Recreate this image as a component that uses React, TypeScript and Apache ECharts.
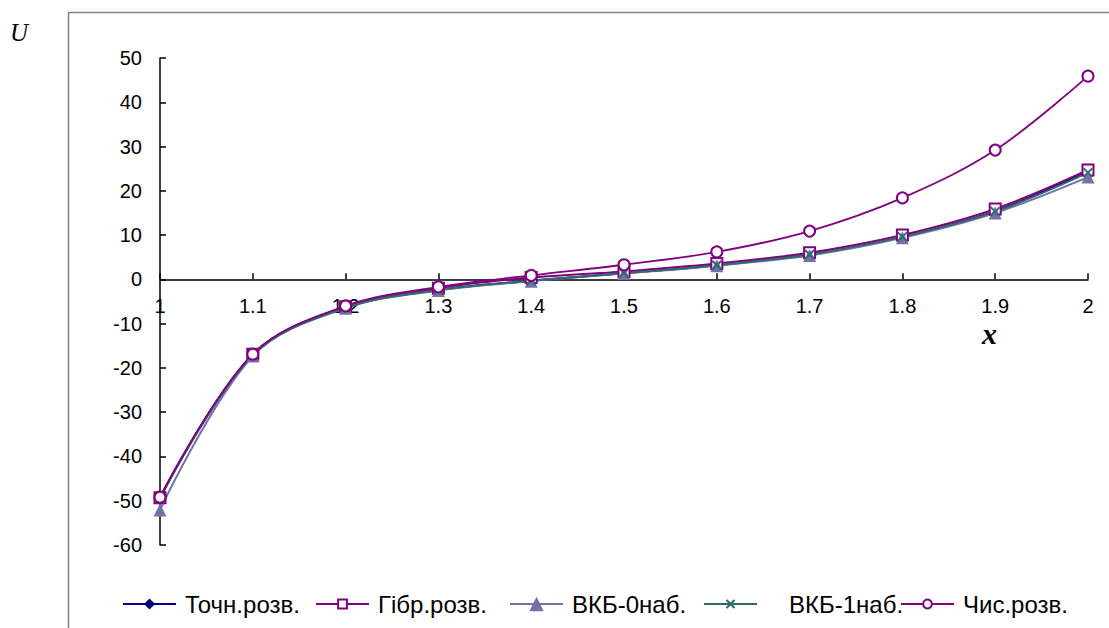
import React, { useEffect, useRef } from "react";
import * as echarts from "echarts";

const xValues = [1, 1.1, 1.2, 1.3, 1.4, 1.5, 1.6, 1.7, 1.8, 1.9, 2];
const exactSol = [-49.3, -17.1, -6.4, -2.4, -0.3, 1.4, 3.2, 5.6, 9.6, 15.4, 24.5];
const hybridSol = [-49.3, -16.9, -6.2, -2.0, 0.4, 1.8, 3.6, 6.0, 10.0, 15.9, 24.7];
const wkb0Sol = [-52.1, -17.3, -6.5, -2.5, -0.4, 1.3, 3.1, 5.4, 9.4, 15.0, 23.1];
const wkb1Sol = [-49.5, -17.1, -6.4, -2.4, -0.3, 1.4, 3.2, 5.6, 9.6, 15.3, 24.1];
const numSol = [-49.2, -16.9, -6.0, -1.7, 0.9, 3.3, 6.2, 10.9, 18.4, 29.2, 45.9];

const seriesNames = ["Точн.розв.", "Гібр.розв.", "ВКБ-0наб.", "ВКБ-1наб.", "Чис.розв."];
const legendLefts = [122, 315, 509, 703, 900];
const legendTextGaps = [4, 4, 4, 27, 4];
const legendIconHeights = [14, 11, 18, 10, 11];

const pair = (ys: number[]) => xValues.map((x, i) => [x, ys[i]]);

export default function App() {
  const ref = useRef<HTMLDivElement>(null);
  useEffect(() => {
    document.body.style.margin = "0";
    if (!ref.current) return;
    const chart = echarts.init(ref.current, undefined, { renderer: "svg" });
    const font = "'Liberation Sans', Arial, sans-serif";
    const common = { type: "line", smooth: 0.35, animation: false, z: 3 };
    chart.setOption({
      animation: false,
      backgroundColor: "#fff",
      grid: { left: 160, right: 21, top: 58, bottom: 83, containLabel: false },
      xAxis: {
        type: "value",
        min: 1,
        max: 2,
        interval: 0.1,
        axisLine: { onZero: true, lineStyle: { color: "#000", width: 1.5 } },
        axisTick: { inside: true, length: 6, lineStyle: { color: "#000", width: 1.5 } },
        splitLine: { show: false },
        axisLabel: {
          color: "#000",
          fontSize: 20,
          fontFamily: font,
          margin: -249,
          formatter: (v: number) => String(Number(v.toFixed(1))),
        },
      },
      yAxis: {
        type: "value",
        min: -60,
        max: 50,
        interval: 10,
        axisLine: { show: true, onZero: false, lineStyle: { color: "#000", width: 1.5 } },
        axisTick: { show: true, inside: true, length: 6, lineStyle: { color: "#000", width: 1.5 } },
        splitLine: { show: false },
        axisLabel: { color: "#000", fontSize: 20, fontFamily: font, margin: 18 },
      },
      legend: seriesNames.map((n, i) => ({
        data: [n],
        left: legendLefts[i],
        top: 592,
        itemWidth: 53,
        itemHeight: legendIconHeights[i],
        padding: 0,
        textStyle: {
          fontSize: 24,
          fontFamily: font,
          color: "#000",
          padding: [0, 0, 0, legendTextGaps[i]],
        },
      })),
      graphic: [
        {
          type: "rect",
          shape: { x: 68.5, y: 12.5, width: 1100, height: 700 },
          style: { fill: "none", stroke: "#808080", lineWidth: 1.5 },
          silent: true,
          z: 0,
        },
        {
          type: "text",
          x: 10,
          y: 20,
          style: {
            text: "U",
            font: "italic 25px 'Liberation Serif', 'Times New Roman', serif",
            fill: "#000",
          },
        },
        {
          type: "text",
          x: 982,
          y: 318,
          style: {
            text: "x",
            font: "italic bold 30px 'Liberation Serif', 'Times New Roman', serif",
            fill: "#000",
          },
        },
      ],
      series: [
        {
          ...common,
          name: seriesNames[0],
          data: pair(exactSol),
          symbol: "diamond",
          symbolSize: 10,
          lineStyle: { color: "#000080", width: 2 },
          itemStyle: { color: "#000080" },
        },
        {
          ...common,
          name: seriesNames[1],
          data: pair(hybridSol),
          symbol: "emptyRect",
          symbolSize: 11,
          lineStyle: { color: "#800080", width: 2 },
          itemStyle: { color: "#800080", borderWidth: 2 },
        },
        {
          ...common,
          name: seriesNames[2],
          data: pair(wkb0Sol),
          symbol: "triangle",
          symbolSize: 13,
          lineStyle: { color: "#7272a8", width: 2 },
          itemStyle: { color: "#7272a8" },
        },
        {
          ...common,
          name: seriesNames[3],
          data: pair(wkb1Sol),
          symbol: "path://M0 0L10 10M10 0L0 10",
          symbolSize: 9,
          lineStyle: { color: "#2f6b6b", width: 2 },
          itemStyle: { color: "#2f6b6b", borderColor: "#2f6b6b", borderWidth: 2 },
        },
        {
          ...common,
          name: seriesNames[4],
          data: pair(numSol),
          symbol: "emptyCircle",
          symbolSize: 11,
          lineStyle: { color: "#800080", width: 1.8 },
          itemStyle: { color: "#800080", borderWidth: 1.6 },
        },
      ],
    });
    return () => chart.dispose();
  }, []);
  return <div ref={ref} style={{ width: 1109, height: 628 }} />;
}
